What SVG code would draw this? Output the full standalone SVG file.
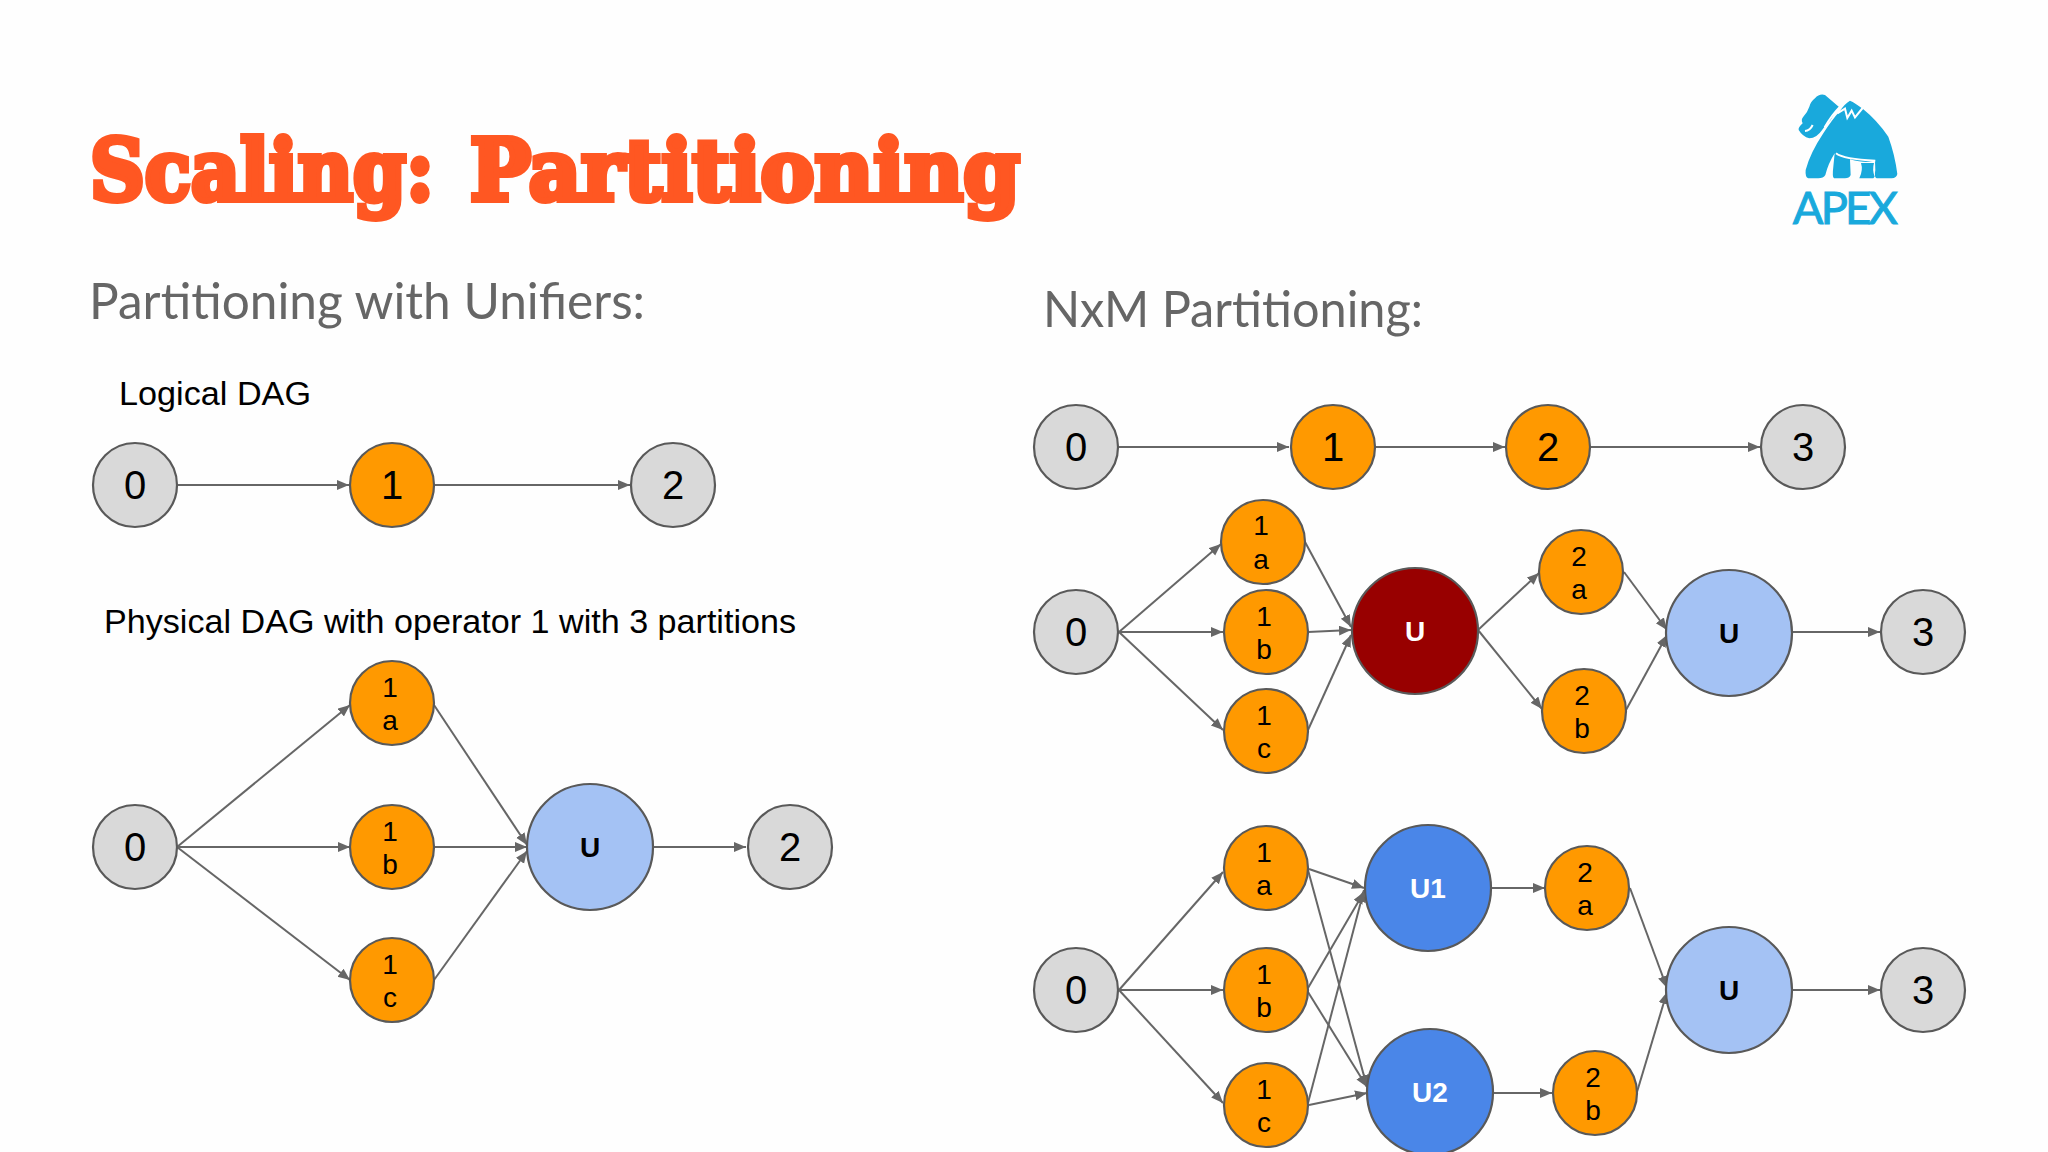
<svg xmlns="http://www.w3.org/2000/svg" width="2048" height="1152" viewBox="0 0 2048 1152">
<style>
text{font-family:"Liberation Sans",Arial,sans-serif;fill:#000}
.n{stroke:#595959;stroke-width:2.2}
.g{fill:#d9d9d9}.o{fill:#ff9900}.l{fill:#a4c2f4}.b{fill:#4a86e8}.r{fill:#980000}
.big{font-size:40px;text-anchor:middle}
.sm{font-size:28px;text-anchor:middle}
.u{font-size:28px;font-weight:700;text-anchor:middle}
.title{font-family:"DejaVu Serif",serif;font-weight:700;font-size:84px;fill:#ff5722;stroke:#ff5722;stroke-width:6;stroke-linejoin:miter}
.sub{font-family:Lato,"Open Sans",sans-serif;font-weight:400;font-size:50px;fill:#666}
.cap{font-size:33px}
#connectors line{stroke:#666;stroke-width:2;marker-end:url(#a);fill:none}
</style>
<defs><marker id="a" markerUnits="userSpaceOnUse" markerWidth="14" markerHeight="12" refX="12" refY="5" orient="auto"><path d="M0 0L12 5L0 10z" fill="#666"/></marker></defs>
<rect width="2048" height="1152" fill="#fefefe"/>
<text class="title" x="90" y="200" textLength="344" lengthAdjust="spacingAndGlyphs">Scaling:</text>
<text class="title" x="470" y="200" textLength="550" lengthAdjust="spacingAndGlyphs">Partitioning</text>
<text class="sub" x="89" y="319" textLength="556" lengthAdjust="spacingAndGlyphs">Partitioning with Unifiers:</text>
<text class="sub" x="1043" y="327" textLength="380" lengthAdjust="spacingAndGlyphs">NxM Partitioning:</text>
<text class="cap" x="119" y="405" textLength="192" lengthAdjust="spacingAndGlyphs">Logical DAG</text>
<text class="cap" x="104" y="633" textLength="692" lengthAdjust="spacingAndGlyphs">Physical DAG with operator 1 with 3 partitions</text>
<g id="logo" transform="translate(1760 70) scale(.3333)">
<path fill="#19a9dc" d="M165 85Q178 70 195 75L238 112Q222 128 212 150Q195 165 188 178Q170 205 148 205Q128 200 116 180Q114 172 128 160Q122 148 130 140Q142 128 148 110Q152 95 165 85Z"/>
<path fill="#19a9dc" d="M270 92Q285 98 310 118Q350 150 385 200Q405 255 412 312Q410 324 395 325H350Q342 322 346 300L345 272Q320 282 270 268L272 315Q268 325 255 325H222Q216 322 220 290L224 250Q205 280 196 315Q190 325 175 325H145Q135 322 137 300Q150 250 190 190Q215 150 238 125Q255 100 270 92Z"/>
<path fill="#fff" d="M272 270Q305 282 345 272Q338 300 345 325H298Q305 300 300 278Z"/>
<path fill="#19a9dc" d="M303 279H342Q336 300 344 320L340 325H298Q310 300 303 279Z"/>
<path fill="none" stroke="#fff" stroke-width="6" d="M232 130L255 116L262 144L275 122L285 142L308 114M240 110Q215 135 194 172M228 250Q250 268 346 272M135 183Q150 182 158 165"/>
<text x="256" y="462" text-anchor="middle" textLength="315" style="font-family:Lato,'Open Sans',sans-serif;font-size:136px;fill:#19a9dc;stroke:#19a9dc;stroke-width:3">APEX</text>
</g>
<g id="connectors">
<line x1="177" y1="485" x2="349" y2="485"/><line x1="435" y1="485" x2="630" y2="485"/>
<line x1="177" y1="847" x2="350" y2="705"/><line x1="177" y1="847" x2="350" y2="847"/><line x1="177" y1="847" x2="350" y2="980"/>
<line x1="434" y1="705" x2="527" y2="845"/><line x1="434" y1="847" x2="527" y2="847"/><line x1="434" y1="980" x2="527" y2="851"/>
<line x1="653" y1="847" x2="746" y2="847"/>
<line x1="1119" y1="447" x2="1289" y2="447"/><line x1="1375" y1="447" x2="1505" y2="447"/><line x1="1590" y1="447" x2="1760" y2="447"/>
<line x1="1119" y1="632" x2="1221" y2="544"/><line x1="1119" y1="632" x2="1223" y2="632"/><line x1="1119" y1="632" x2="1223" y2="730"/>
<line x1="1305" y1="542" x2="1351" y2="627"/><line x1="1308" y1="632" x2="1351" y2="630"/><line x1="1308" y1="730" x2="1351" y2="635"/>
<line x1="1478" y1="630" x2="1539" y2="573"/><line x1="1478" y1="630" x2="1542" y2="709"/>
<line x1="1624" y1="572" x2="1667" y2="630"/><line x1="1626" y1="710" x2="1667" y2="635"/><line x1="1792" y1="632" x2="1880" y2="632"/>
<line x1="1119" y1="990" x2="1223" y2="872"/><line x1="1119" y1="990" x2="1223" y2="990"/><line x1="1119" y1="990" x2="1223" y2="1103"/>
<line x1="1309" y1="869" x2="1364" y2="888"/><line x1="1308" y1="870" x2="1367" y2="1087"/>
<line x1="1308" y1="988" x2="1364" y2="892"/><line x1="1308" y1="992" x2="1367" y2="1087"/>
<line x1="1308" y1="1103" x2="1364" y2="890"/><line x1="1309" y1="1105" x2="1367" y2="1093"/>
<line x1="1490" y1="888" x2="1545" y2="888"/><line x1="1493" y1="1093" x2="1552" y2="1093"/>
<line x1="1630" y1="888" x2="1667" y2="988"/><line x1="1637" y1="1092" x2="1667" y2="992"/><line x1="1792" y1="990" x2="1880" y2="990"/>
</g>
<g id="l0"><circle class="n g" cx="135" cy="485" r="42"/><text class="big" x="135" y="499">0</text></g>
<g id="l1"><circle class="n o" cx="392" cy="485" r="42"/><text class="big" x="392" y="499">1</text></g>
<g id="l2"><circle class="n g" cx="673" cy="485" r="42"/><text class="big" x="673" y="499">2</text></g>
<g id="p0"><circle class="n g" cx="135" cy="847" r="42"/><text class="big" x="135" y="861">0</text></g>
<g id="p1a"><circle class="n o" cx="392" cy="703" r="42"/><text class="sm" x="390" y="697">1</text><text class="sm" x="390" y="730">a</text></g>
<g id="p1b"><circle class="n o" cx="392" cy="847" r="42"/><text class="sm" x="390" y="841">1</text><text class="sm" x="390" y="874">b</text></g>
<g id="p1c"><circle class="n o" cx="392" cy="980" r="42"/><text class="sm" x="390" y="974">1</text><text class="sm" x="390" y="1007">c</text></g>
<g id="pu"><circle class="n l" cx="590" cy="847" r="63"/><text class="u" x="590" y="857">U</text></g>
<g id="p2"><circle class="n g" cx="790" cy="847" r="42"/><text class="big" x="790" y="861">2</text></g>
<g id="t0"><circle class="n g" cx="1076" cy="447" r="42"/><text class="big" x="1076" y="461">0</text></g>
<g id="t1"><circle class="n o" cx="1333" cy="447" r="42"/><text class="big" x="1333" y="461">1</text></g>
<g id="t2"><circle class="n o" cx="1548" cy="447" r="42"/><text class="big" x="1548" y="461">2</text></g>
<g id="t3"><circle class="n g" cx="1803" cy="447" r="42"/><text class="big" x="1803" y="461">3</text></g>
<g id="m0"><circle class="n g" cx="1076" cy="632" r="42"/><text class="big" x="1076" y="646">0</text></g>
<g id="m1a"><circle class="n o" cx="1263" cy="542" r="42"/><text class="sm" x="1261" y="535">1</text><text class="sm" x="1261" y="569">a</text></g>
<g id="m1b"><circle class="n o" cx="1266" cy="632" r="42"/><text class="sm" x="1264" y="626">1</text><text class="sm" x="1264" y="659">b</text></g>
<g id="m1c"><circle class="n o" cx="1266" cy="731" r="42"/><text class="sm" x="1264" y="725">1</text><text class="sm" x="1264" y="758">c</text></g>
<g id="mu1"><circle class="n r" cx="1415" cy="631" r="63"/><text class="u" x="1415" y="641" style="fill:#fff">U</text></g>
<g id="m2a"><circle class="n o" cx="1581" cy="572" r="42"/><text class="sm" x="1579" y="566">2</text><text class="sm" x="1579" y="599">a</text></g>
<g id="m2b"><circle class="n o" cx="1584" cy="711" r="42"/><text class="sm" x="1582" y="705">2</text><text class="sm" x="1582" y="738">b</text></g>
<g id="mu2"><circle class="n l" cx="1729" cy="633" r="63"/><text class="u" x="1729" y="643">U</text></g>
<g id="m3"><circle class="n g" cx="1923" cy="632" r="42"/><text class="big" x="1923" y="646">3</text></g>
<g id="b0"><circle class="n g" cx="1076" cy="990" r="42"/><text class="big" x="1076" y="1004">0</text></g>
<g id="b1a"><circle class="n o" cx="1266" cy="868" r="42"/><text class="sm" x="1264" y="862">1</text><text class="sm" x="1264" y="895">a</text></g>
<g id="b1b"><circle class="n o" cx="1266" cy="990" r="42"/><text class="sm" x="1264" y="984">1</text><text class="sm" x="1264" y="1017">b</text></g>
<g id="b1c"><circle class="n o" cx="1266" cy="1105" r="42"/><text class="sm" x="1264" y="1099">1</text><text class="sm" x="1264" y="1132">c</text></g>
<g id="bu1"><circle class="n b" cx="1428" cy="888" r="63"/><text class="u" x="1428" y="898" style="fill:#fff">U1</text></g>
<g id="bu2"><circle class="n b" cx="1430" cy="1092" r="63"/><text class="u" x="1430" y="1102" style="fill:#fff">U2</text></g>
<g id="b2a"><circle class="n o" cx="1587" cy="888" r="42"/><text class="sm" x="1585" y="882">2</text><text class="sm" x="1585" y="915">a</text></g>
<g id="b2b"><circle class="n o" cx="1595" cy="1093" r="42"/><text class="sm" x="1593" y="1087">2</text><text class="sm" x="1593" y="1120">b</text></g>
<g id="bu"><circle class="n l" cx="1729" cy="990" r="63"/><text class="u" x="1729" y="1000">U</text></g>
<g id="b3"><circle class="n g" cx="1923" cy="990" r="42"/><text class="big" x="1923" y="1004">3</text></g>
</svg>
